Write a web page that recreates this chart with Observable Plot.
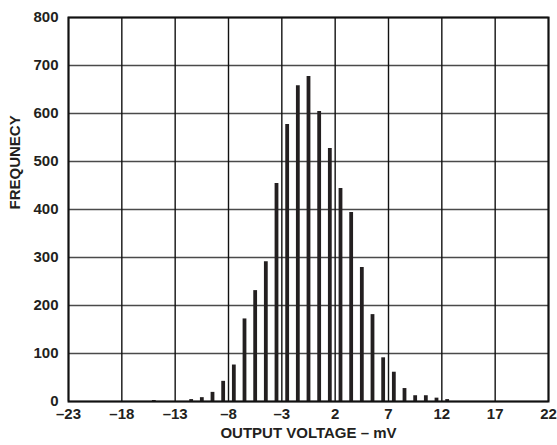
<!DOCTYPE html>
<html>
<head>
<meta charset="utf-8">
<script src="https://cdn.jsdelivr.net/npm/d3@7"></script>
<script src="https://cdn.jsdelivr.net/npm/@observablehq/plot@0.6"></script>
<style>
  html, body { margin: 0; padding: 0; background: #fff; }
  #chart { width: 557px; height: 445px; overflow: hidden; }
</style>
</head>
<body>
<div id="chart"></div>
<script>
// Bin centres (mV) and their frequencies
const voltage = [-15, -11.5, -10.5, -9.5, -8.5, -7.5, -6.5, -5.5, -4.5, -3.5, -2.5, -1.5, -0.5,
                 0.5, 1.5, 2.5, 3.5, 4.5, 5.5, 6.5, 7.5, 8.5, 9.5, 10.5, 11.5, 12.5];
const frequency = [2, 4, 8, 19, 42, 76, 172, 231, 291, 454, 577, 658, 677,
                   604, 527, 444, 394, 279, 181, 91, 61, 27, 12, 12, 7, 4];
const xTicks = [-23, -18, -13, -8, -3, 2, 7, 12, 17, 22];
const yTicks = [0, 100, 200, 300, 400, 500, 600, 700, 800];
const xLabel = "OUTPUT VOLTAGE – mV";
const yLabel = "FREQUNECY";

const data = voltage.map((v, i) => ({ v, f: frequency[i] }));
const fmt = d => (d < 0 ? "–" + Math.abs(d) : String(d));

const chart = Plot.plot({
  width: 557,
  height: 445,
  marginLeft: 68,
  marginRight: 9,
  marginTop: 17,
  marginBottom: 44,
  x: { domain: [-23, 22] },
  y: { domain: [0, 800] },
  style: {
    fontFamily: "'Liberation Sans', Arial, Helvetica, sans-serif",
    fontWeight: "bold",
    fontSize: "15px",
    color: "#231f20",
    background: "#fff"
  },
  marks: [
    Plot.gridY(yTicks, { stroke: "#4a4a4a", strokeOpacity: 1, strokeWidth: 1.5 }),
    Plot.gridX(xTicks, { stroke: "#111", strokeOpacity: 1, strokeWidth: 1.4 }),
    Plot.ruleX(data, { x: "v", y1: 0, y2: "f", stroke: "#231f20", strokeWidth: 3.8 }),
    Plot.frame({ stroke: "#111", strokeWidth: 2 }),
    Plot.axisX(xTicks, { tickSize: 0, tickPadding: 7, tickFormat: fmt, label: null, fontSize: 15 }),
    Plot.axisY(yTicks, { tickSize: 0, tickPadding: 10, label: null, fontSize: 15 }),
    Plot.text([xLabel], { frameAnchor: "bottom", dy: 36, fontSize: 15, fontWeight: "bold", fill: "#231f20" }),
    Plot.text([yLabel], { frameAnchor: "left", dx: -53, rotate: -90, fontSize: 15, fontWeight: "bold", fill: "#231f20" })
  ]
});
document.getElementById("chart").appendChild(chart);
</script>
</body>
</html>
